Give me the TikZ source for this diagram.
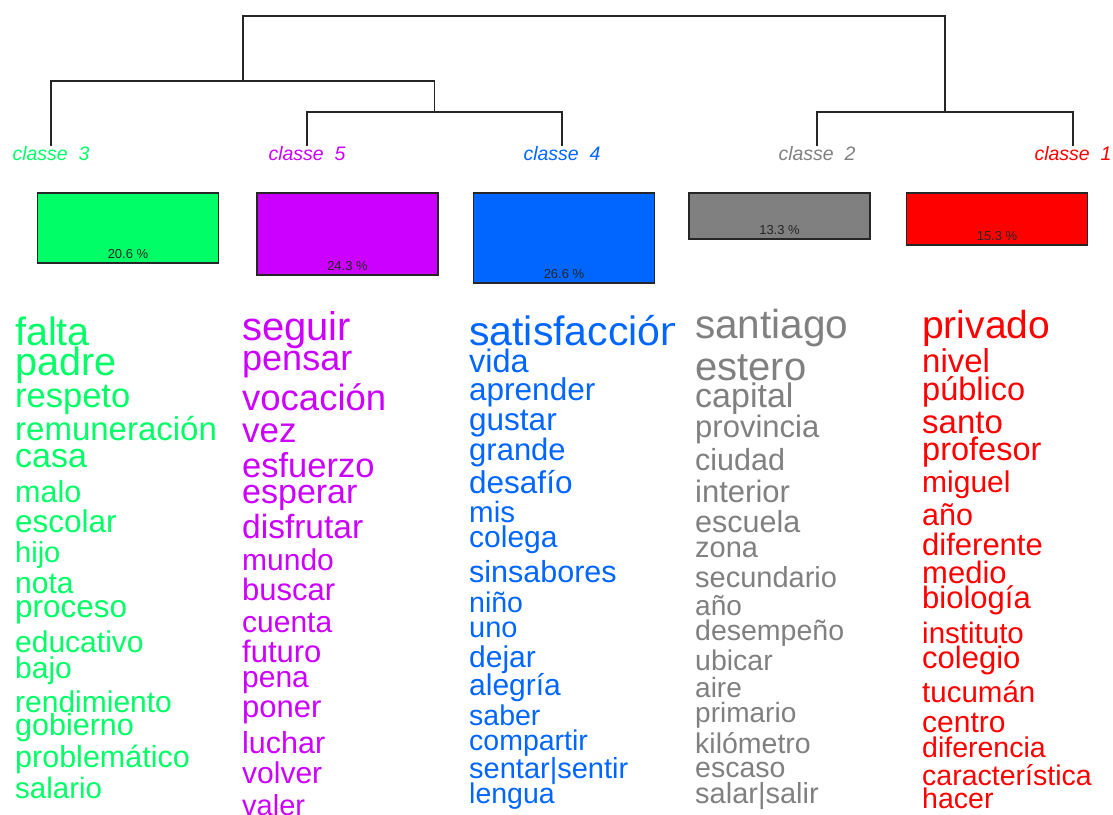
\documentclass[tikz,border=0pt]{standalone}
\usepackage{fontspec}
\setmainfont{Liberation Sans}
\definecolor{verde}{HTML}{00FF66}
\definecolor{roxo}{HTML}{CC00FF}
\definecolor{azul}{HTML}{0066FF}
\definecolor{cinza}{HTML}{808080}
\definecolor{vermelho}{HTML}{FF0000}
\tikzset{
  rotulo/.style={font=\fontsize{19.5}{19.5}\selectfont\itshape, inner sep=0pt, anchor=base},
  barra/.style={draw=black!85, line width=1.5pt, minimum width=181pt, inner sep=0pt, anchor=north},
  pct/.style={font=\fontsize{13}{13}\selectfont, inner sep=0pt, anchor=base, text=black!85},
  palavra/.style={inner sep=0pt, anchor=base west},
  ramo/.style={line width=1.5pt, black!85}
}
\begin{document}
\begin{tikzpicture}[x=1pt, y=-1pt]
    \useasboundingbox (0,0) rectangle (1113,814); % Moldura
    \clip (0,0) rectangle (1113,814);
    % Rotulos das classes
    \node[rotulo, text=verde] (c3) at (51,160) {classe\ \ 3};
    \node[rotulo, text=roxo] (c5) at (307,160) {classe\ \ 5};
    \node[rotulo, text=azul] (c4) at (562,160) {classe\ \ 4};
    \node[rotulo, text=cinza] (c2) at (817,160) {classe\ \ 2};
    \node[rotulo, text=vermelho] (c1) at (1073,160) {classe\ \ 1};
    % Dendrograma
    \coordinate (n54) at (434.5,112);
    \coordinate (n354) at (243,81);
    \coordinate (n21) at (945,112);
    \coordinate (raiz) at (594,16);
    \draw[ramo] (c5.north) |- (n54) -| (c4.north);
    \draw[ramo] (c3.north) |- (n354) -| (n54);
    \draw[ramo] (c2.north) |- (n21) -| (c1.north);
    \draw[ramo] (n354) |- (raiz) -| (n21);
    % Barras
    \node[barra, fill=verde, minimum height=70pt] (b3) at (128,192) {};
    \node[barra, fill=roxo, minimum height=82pt] (b5) at (347.5,192) {};
    \node[barra, fill=azul, minimum height=90pt] (b4) at (564,192) {};
    \node[barra, fill=cinza, minimum height=46pt] (b2) at (779.5,192) {};
    \node[barra, fill=vermelho, minimum height=52pt] (b1) at (997,192) {};
    \node[pct] (p3) at ([yshift=5pt]b3.south) {20.6 \%};
    \node[pct] (p5) at ([yshift=5pt]b5.south) {24.3 \%};
    \node[pct] (p4) at ([yshift=5pt]b4.south) {26.6 \%};
    \node[pct] (p2) at ([yshift=5pt]b2.south) {13.3 \%};
    \node[pct] (p1) at ([yshift=5pt]b1.south) {15.3 \%};
    % Palavras classe 3
    \foreach \w/\y/\s [count=\i] in {falta/345/39.5, padre/375/39.5, respeto/407/34.5, remuneración/440/33, casa/467/34, malo/502/30.5, escolar/532/31.5, hijo/562/29, nota/593/30, proceso/617/31.5, educativo/652/30, bajo/678/30, rendimiento/712/30, gobierno/735/30.5, problemático/767/30.5, salario/798/29.5}
        \node[palavra, text=verde] (w3-\i) at (15,\y) {\fontsize{\s}{\s}\selectfont \w};
    % Palavras classe 5
    \foreach \w/\y/\s [count=\i] in {seguir/340/40, pensar/370/36, vocación/410/36.5, vez/442/35, esfuerzo/477/34.5, esperar/503/34, disfrutar/538/33.5, mundo/570/30, buscar/600/31, cuenta/632/30, futuro/662/31, pena/687/30, poner/717/31, luchar/753/30.5, volver/783/30, valer/815/29}
        \node[palavra, text=roxo] (w5-\i) at (242,\y) {\fontsize{\s}{\s}\selectfont \w};
    % Palavras classe 4
    \begin{scope}
        \clip (460,290) rectangle (674,360); % Corte da primeira palavra
        \node[palavra, text=azul] (w4-0) at (469,345) {\fontsize{41}{41}\selectfont satisfacción};
    \end{scope}
    \foreach \w/\y/\s [count=\i] in {vida/372/32.5, aprender/400/31.5, gustar/430/31.5, grande/460/31, desafío/493/31.5, mis/522/29.5, colega/547/30, sinsabores/582/30.5, niño/612/28.5, uno/637/29, dejar/667/30, alegría/695/30, saber/725/28.5, compartir/750/28.5, sentar|sentir/778/29, lengua/803/28.5}
        \node[palavra, text=azul] (w4-\i) at (469,\y) {\fontsize{\s}{\s}\selectfont \w};
    % Palavras classe 2
    \foreach \w/\y/\s [count=\i] in {santiago/338/40.5, estero/380/40, capital/407/34, provincia/437/31, ciudad/470/30.5, interior/502/31, escuela/532/30.5, zona/557/29, secundario/587/29, año/615/28, desempeño/640/28.5, ubicar/670/28.5, aire/697/28, primario/722/28, kilómetro/753/28.5, escaso/777/28.5, salar|salir/803/29}
        \node[palavra, text=cinza] (w2-\i) at (695,\y) {\fontsize{\s}{\s}\selectfont \w};
    % Palavras classe 1
    \foreach \w/\y/\s [count=\i] in {privado/338/39, nivel/372/33, público/400/32.5, santo/433/33, profesor/460/32.5, miguel/492/30, año/525/30.5, diferente/555/31, medio/583/31, biología/608/31, instituto/643/29.5, colegio/668/31, tucumán/702/29.5, centro/732/30, diferencia/757/28.5, característica/785/28.5, hacer/808/28.5}
        \node[palavra, text=vermelho] (w1-\i) at (922,\y) {\fontsize{\s}{\s}\selectfont \w};
\end{tikzpicture}
\end{document}
